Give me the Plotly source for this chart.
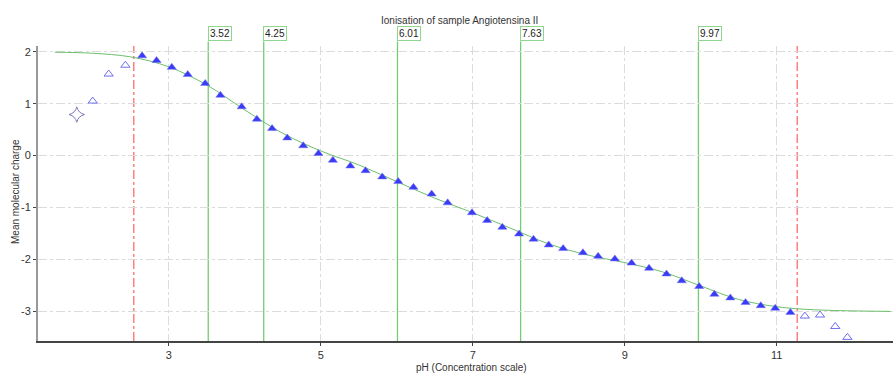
import plotly.graph_objects as go

# ---- data ----
fit_x = [1.5, 2.0, 2.5, 3.0, 3.5, 4.0, 4.5, 5.0, 5.5, 6.0, 6.5, 7.0, 7.5, 8.0,
         8.5, 9.0, 9.5, 10.0, 10.5, 11.0, 11.5, 12.0, 12.5]
fit_y = [1.99, 1.97, 1.90, 1.71, 1.36, 0.88, 0.43, 0.09, -0.18, -0.50, -0.82,
         -1.10, -1.40, -1.70, -1.91, -2.06, -2.24, -2.51, -2.77, -2.91, -2.97,
         -2.99, -3.00]

used_x = [2.65, 2.84, 3.04, 3.25, 3.48, 3.68, 3.96, 4.16, 4.36, 4.56, 4.77, 4.97,
          5.16, 5.39, 5.59, 5.81, 6.02, 6.22, 6.46, 6.67, 6.99, 7.19, 7.39, 7.61,
          7.80, 8.00, 8.19, 8.45, 8.65, 8.87, 9.09, 9.32, 9.55, 9.75, 9.98, 10.18,
          10.39, 10.59, 10.79, 10.98, 11.18]
used_y = [1.92, 1.83, 1.70, 1.56, 1.39, 1.16, 0.94, 0.70, 0.52, 0.34, 0.19, 0.04,
          -0.09, -0.20, -0.29, -0.41, -0.50, -0.61, -0.74, -0.91, -1.10, -1.25,
          -1.38, -1.51, -1.61, -1.72, -1.79, -1.87, -1.94, -1.99, -2.07, -2.17,
          -2.28, -2.41, -2.52, -2.67, -2.74, -2.83, -2.89, -2.94, -3.02]

excl_x = [2.00, 2.21, 2.43, 11.37, 11.57, 11.77, 11.93]
excl_y = [1.05, 1.57, 1.74, -3.09, -3.07, -3.29, -3.50]

star_x = [1.79]
star_y = [0.79]

pka_values = [3.52, 4.25, 6.01, 7.63, 9.97]
pka_labels = ["3.52", "4.25", "6.01", "7.63", "9.97"]
range_limits = [2.54, 11.27]

title_text = "Ionisation of sample Angiotensina II"
x_title = "pH (Concentration scale)"
y_title = "Mean molecular charge"
x_ticks = [3, 5, 7, 9, 11]
y_ticks = [-3, -2, -1, 0, 1, 2]

FONT = "Liberation Sans"
GREEN = "#74cc74"

fig = go.Figure()
fig.add_trace(go.Scatter(x=fit_x, y=fit_y, mode="lines",
                         line=dict(color="#6cbf6c", width=1, shape="spline"),
                         hoverinfo="skip", showlegend=False))
fig.add_trace(go.Scatter(x=used_x, y=used_y, mode="markers",
                         marker=dict(symbol="triangle-up", size=8, color="#3b3bf5",
                                     line=dict(width=0.5, color="#6f6ff5")),
                         showlegend=False))
fig.add_trace(go.Scatter(x=excl_x, y=excl_y, mode="markers",
                         marker=dict(symbol="triangle-up-open", size=8, color="#6e6ef0",
                                     line=dict(width=1)),
                         showlegend=False))
fig.add_trace(go.Scatter(x=star_x, y=star_y, mode="markers",
                         marker=dict(symbol="star-diamond-open", size=11, color="#7878bb",
                                     line=dict(width=1)),
                         showlegend=False))

shapes = []
annotations = []
box_bottom = 1.0155
for v, lab in zip(pka_values, pka_labels):
    shapes.append(dict(type="line", xref="x", yref="paper", x0=v, x1=v, y0=0, y1=box_bottom,
                       line=dict(color=GREEN, width=1.3), layer="below"))
    annotations.append(dict(x=v, y=box_bottom, xref="x", yref="paper", text=lab,
                            showarrow=False, xanchor="left", yanchor="bottom",
                            xshift=-0.5,
                            font=dict(family=FONT, size=10, color="#222"),
                            bgcolor="white", bordercolor="#8fd68f", borderwidth=1,
                            borderpad=1))
for v in range_limits:
    shapes.append(dict(type="line", xref="x", yref="paper", x0=v, x1=v, y0=0, y1=1,
                       line=dict(color="#ff8080", width=1.5, dash="dashdot"), layer="below"))

annotations.append(dict(x=(459 - 38) / 855, y=(341 - 20) / 295, xref="paper", yref="paper",
                        text=title_text, showarrow=False, xanchor="center", yanchor="middle",
                        font=dict(family=FONT, size=10, color="#333")))
annotations.append(dict(x=(472 - 38) / 855, y=(341 - 367) / 295, xref="paper", yref="paper",
                        text=x_title, showarrow=False, xanchor="center", yanchor="middle",
                        font=dict(family=FONT, size=10, color="#333")))
annotations.append(dict(x=(15 - 38) / 855, y=(341 - 192) / 295, xref="paper", yref="paper",
                        text=y_title, showarrow=False, xanchor="center", yanchor="middle",
                        textangle=-90, font=dict(family=FONT, size=10, color="#333")))

fig.update_layout(
    width=895, height=374,
    margin=dict(l=38, r=2, t=46, b=33),
    paper_bgcolor="white", plot_bgcolor="white",
    shapes=shapes, annotations=annotations,
    font=dict(family=FONT, size=10, color="#333"),
)
fig.update_xaxes(range=[1.28, 12.53], tickvals=x_ticks, ticktext=[str(t) for t in x_ticks],
                 showgrid=True, gridcolor="#dcdcdc", griddash="dashdot", gridwidth=1,
                 showline=True, linecolor="#444", linewidth=1.5,
                 ticks="outside", ticklen=3, tickcolor="#444", zeroline=False,
                 tickfont=dict(family=FONT, size=11, color="#333"))
fig.update_yaxes(range=[-3.57, 2.11], tickvals=y_ticks, ticktext=[str(t) for t in y_ticks],
                 showgrid=True, gridcolor="#dcdcdc", griddash="dashdot", gridwidth=1,
                 showline=True, linecolor="#999", linewidth=2,
                 ticks="outside", ticklen=3, tickcolor="#444", zeroline=False,
                 tickfont=dict(family=FONT, size=11, color="#333"))

fig.write_html("out.html")
